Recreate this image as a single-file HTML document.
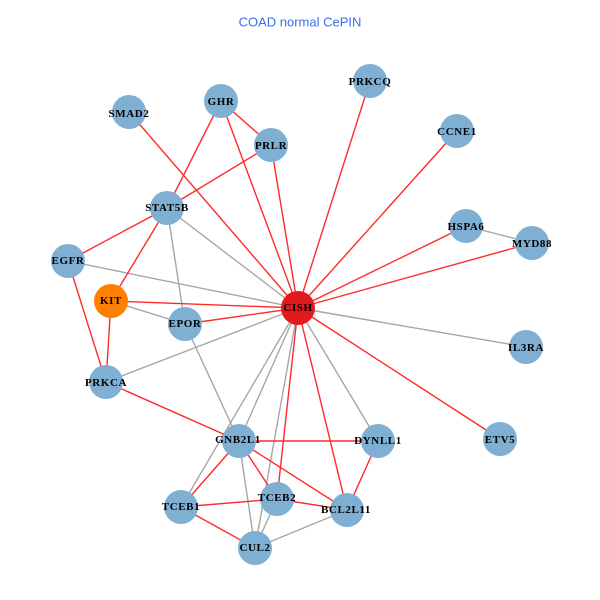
<!DOCTYPE html>
<html><head><meta charset="utf-8"><style>
html,body{margin:0;padding:0;background:#fff}
svg{display:block}
text{font-family:"Liberation Serif",serif;font-weight:bold;font-size:11px;letter-spacing:0.6px;fill:#000;text-anchor:middle;dominant-baseline:central}
</style></head><body>
<svg width="600" height="600" viewBox="0 0 600 600">
<text x="300" y="22" style="font-family:'Liberation Sans',sans-serif;font-weight:normal;font-size:13px;letter-spacing:0;fill:#3a6fe8">COAD normal CePIN</text>
<g stroke-width="1.4">
<g stroke="#a6a6a6">
<line x1="167" y1="208" x2="298" y2="308"/>
<line x1="167" y1="208" x2="185" y2="324"/>
<line x1="68" y1="261" x2="298" y2="308"/>
<line x1="111" y1="301" x2="185" y2="324"/>
<line x1="106" y1="382" x2="298" y2="308"/>
<line x1="185" y1="324" x2="239" y2="441"/>
<line x1="298" y1="308" x2="526" y2="347"/>
<line x1="298" y1="308" x2="378" y2="441"/>
<line x1="298" y1="308" x2="239" y2="441"/>
<line x1="298" y1="308" x2="181" y2="507"/>
<line x1="298" y1="308" x2="255" y2="548"/>
<line x1="239" y1="441" x2="255" y2="548"/>
<line x1="277" y1="499" x2="255" y2="548"/>
<line x1="347" y1="510" x2="255" y2="548"/>
<line x1="466" y1="226" x2="532" y2="243"/>
</g>
<g stroke="#ff2a2a">
<line x1="129" y1="112" x2="298" y2="308"/>
<line x1="221" y1="101" x2="298" y2="308"/>
<line x1="221" y1="101" x2="271" y2="145"/>
<line x1="221" y1="101" x2="167" y2="208"/>
<line x1="370" y1="81" x2="298" y2="308"/>
<line x1="271" y1="145" x2="298" y2="308"/>
<line x1="271" y1="145" x2="167" y2="208"/>
<line x1="457" y1="131" x2="298" y2="308"/>
<line x1="466" y1="226" x2="298" y2="308"/>
<line x1="532" y1="243" x2="298" y2="308"/>
<line x1="167" y1="208" x2="68" y2="261"/>
<line x1="167" y1="208" x2="111" y2="301"/>
<line x1="68" y1="261" x2="106" y2="382"/>
<line x1="111" y1="301" x2="298" y2="308"/>
<line x1="111" y1="301" x2="106" y2="382"/>
<line x1="185" y1="324" x2="298" y2="308"/>
<line x1="106" y1="382" x2="239" y2="441"/>
<line x1="298" y1="308" x2="500" y2="439"/>
<line x1="298" y1="308" x2="277" y2="499"/>
<line x1="298" y1="308" x2="347" y2="510"/>
<line x1="239" y1="441" x2="378" y2="441"/>
<line x1="378" y1="441" x2="347" y2="510"/>
<line x1="239" y1="441" x2="181" y2="507"/>
<line x1="239" y1="441" x2="277" y2="499"/>
<line x1="239" y1="441" x2="347" y2="510"/>
<line x1="181" y1="507" x2="277" y2="499"/>
<line x1="277" y1="499" x2="347" y2="510"/>
<line x1="181" y1="507" x2="255" y2="548"/>
</g>
</g>
<g fill="#7fb0d3">
<circle cx="129" cy="112" r="17"/><circle cx="221" cy="101" r="17"/>
<circle cx="370" cy="81" r="17"/><circle cx="271" cy="145" r="17"/>
<circle cx="457" cy="131" r="17"/><circle cx="167" cy="208" r="17"/>
<circle cx="466" cy="226" r="17"/><circle cx="532" cy="243" r="17"/>
<circle cx="68" cy="261" r="17"/><circle cx="185" cy="324" r="17"/>
<circle cx="526" cy="347" r="17"/><circle cx="106" cy="382" r="17"/>
<circle cx="239" cy="441" r="17"/><circle cx="378" cy="441" r="17"/>
<circle cx="500" cy="439" r="17"/><circle cx="181" cy="507" r="17"/>
<circle cx="277" cy="499" r="17"/><circle cx="347" cy="510" r="17"/>
<circle cx="255" cy="548" r="17"/>
</g>
<circle cx="111" cy="301" r="17" fill="#ff7f00"/>
<circle cx="298" cy="308" r="17" fill="#e31a1c"/>
<text x="129" y="114">SMAD2</text><text x="221" y="102">GHR</text>
<text x="370" y="82">PRKCQ</text><text x="271" y="146">PRLR</text>
<text x="457" y="132">CCNE1</text><text x="167" y="208">STAT5B</text>
<text x="466" y="227">HSPA6</text><text x="532" y="244">MYD88</text>
<text x="68" y="261">EGFR</text><text x="111" y="301">KIT</text>
<text x="298" y="308">CISH</text><text x="185" y="324">EPOR</text>
<text x="526" y="348">IL3RA</text><text x="106" y="383">PRKCA</text>
<text x="238" y="440">GNB2L1</text><text x="378" y="441">DYNLL1</text>
<text x="500" y="440">ETV5</text><text x="181" y="507">TCEB1</text>
<text x="277" y="498">TCEB2</text><text x="346" y="510">BCL2L11</text>
<text x="255" y="548">CUL2</text>
</svg>
</body></html>
